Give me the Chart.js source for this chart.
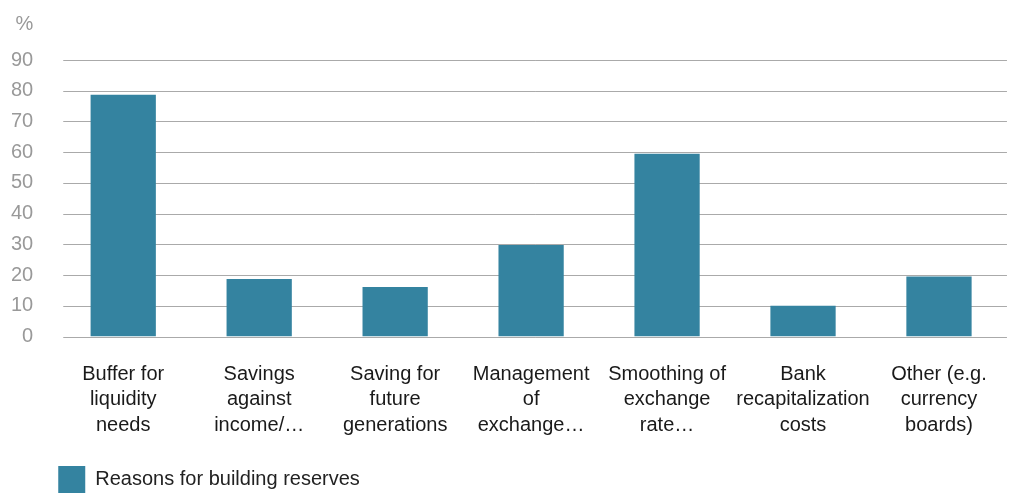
<!DOCTYPE html>
<html>
<head>
<meta charset="utf-8">
<script src="https://cdn.jsdelivr.net/npm/chart.js@4"></script>
<style>
	html, body { margin: 0; padding: 0; background: #fff; }
	#wrap { width: 1012px; height: 498px; }
</style>
</head>
<body>
<div id="wrap"><canvas id="reserves"></canvas></div>
<script>
const categories = [
	['Buffer for', 'liquidity', 'needs'],
	['Savings', 'against', 'income/…'],
	['Saving for', 'future', 'generations'],
	['Management', 'of', 'exchange…'],
	['Smoothing of', 'exchange', 'rate…'],
	['Bank', 'recapitalization', 'costs'],
	['Other (e.g.', 'currency', 'boards)']
];
const reasons = [78.7, 18.7, 16.1, 29.8, 59.5, 10, 19.5];
const seriesName = 'Reasons for building reserves';
const unitLabel = '%';

const font = "'Liberation Sans', Arial, sans-serif";

// light grid lines that start a bit to the right of the plot edge, plus the % label
const extras = {
	id: 'extras',
	beforeDatasetsDraw(chart) {
		const { ctx, chartArea, scales } = chart;
		ctx.save();
		ctx.strokeStyle = '#aaaaaa';
		ctx.lineWidth = 1;
		scales.y.ticks.forEach(t => {
			const y = Math.round(scales.y.getPixelForValue(t.value)) + 0.5;
			ctx.beginPath();
			ctx.moveTo(chartArea.left + 8, y);
			ctx.lineTo(chartArea.right, y);
			ctx.stroke();
		});
		ctx.restore();
	},
	afterDraw(chart) {
		const { ctx, scales } = chart;
		ctx.save();
		ctx.fillStyle = '#999999';
		ctx.font = '20px ' + font;
		ctx.textAlign = 'right';
		ctx.textBaseline = 'middle';
		ctx.fillText(unitLabel, scales.y.right - 22, scales.y.getPixelForValue(90) - 36);
		ctx.restore();
	}
};

new Chart(document.getElementById('reserves'), {
	type: 'bar',
	data: {
		labels: categories,
		datasets: [{
			label: seriesName,
			data: reasons,
			backgroundColor: '#3483a0',
			barPercentage: 0.96,
			categoryPercentage: 0.5
		}]
	},
	options: {
		responsive: true,
		maintainAspectRatio: false,
		animation: false,
		layout: { padding: { top: 60, left: -11, right: 3, bottom: -5 } },
		scales: {
			x: {
				grid: { display: false, drawTicks: false },
				border: { display: false },
				ticks: {
					color: '#1a1a1a',
					font: { family: font, size: 20, lineHeight: 1.275 },
					padding: 25,
					maxRotation: 0,
					autoSkip: false
				}
			},
			y: {
				min: 0,
				max: 90,
				grid: { display: false, drawTicks: false },
				border: { display: false },
				ticks: {
					stepSize: 10,
					color: '#999999',
					font: { family: font, size: 20 },
					padding: 22
				}
			}
		},
		plugins: {
			legend: {
				position: 'bottom',
				align: 'start',
				fullSize: false,
				labels: {
					boxWidth: 27,
					boxHeight: 27,
					padding: 3,
					color: '#222222',
					font: { family: font, size: 20 }
				}
			},
			tooltip: { enabled: false }
		}
	},
	plugins: [extras]
});
</script>
</body>
</html>
